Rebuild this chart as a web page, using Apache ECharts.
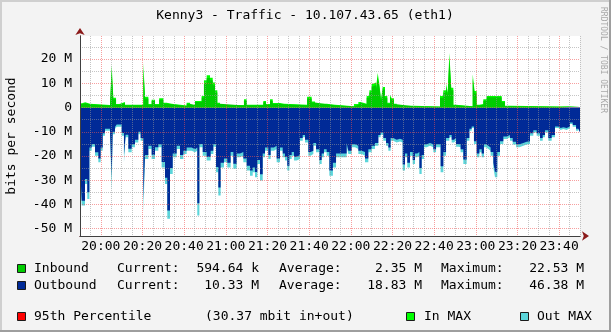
<!DOCTYPE html>
<html><head><meta charset="utf-8">
<script src="https://cdn.jsdelivr.net/npm/echarts@6/dist/echarts.min.js"></script>
<style>html,body{margin:0;padding:0;background:#F3F3F3}#c{width:611px;height:332px}</style>
</head><body><div id="c"></div>
<script>
// minutes after 19:50, values in M bits/s
const inTimes = [0,1,2.5,4.8,14.4,15.2,16,17.3,18.9,21.6,30.4,31.2,32.8,34.4,36,38,40,41.6,44,51.2,52.8,55.2,58.4,59.5,60.8,62.4,63.7,64.8,65.9,67.2,78.7,80,88,89.3,91.2,92.5,96,98,109,111.2,112.8,118.4,122.4,131.5,133.6,134.7,137.6,138.9,140,140.8,142.1,142.9,143.7,144.5,145.3,146.4,147.5,148.8,149.6,150.7,152,160,172.8,174.4,175.7,176.5,177.3,178.2,179.2,180.5,188.5,189.4,190.4,191.7,193.6,195.2,202.4,204,206.4,230.4,240];
const inMax = [1.8,2.2,1.6,1.0,1.2,17.5,4.0,1.5,2.3,1.1,18.4,4.4,1.4,3.2,1.4,3.8,2.0,1.6,0.8,2.0,1.1,2.7,4.8,11.2,13.3,12.3,10.3,7.1,2.0,1.0,3.4,1.1,2.7,1.4,3.4,1.9,1.6,1.1,4.4,2.5,1.6,1.1,0.5,1.4,2.3,1.6,4.8,7.1,9.6,10.3,8.2,14.2,9.6,3.4,8.5,4.8,2.0,5.2,3.8,1.6,0.7,0.4,4.8,7.1,9.9,6.2,22.5,8.2,1.1,0.5,13.7,6.8,1.1,1.4,3.4,4.8,2.7,0.7,0.4,0.5,0.6];
const inAvg = [1.5,1.8,1.3,0.8,1.0,15.0,3.4,1.2,1.9,0.9,16.0,3.7,1.1,2.7,1.1,3.2,1.7,1.3,0.6,1.6,0.9,2.3,4.1,10.0,12.2,11.2,9.2,6.2,1.6,0.8,2.8,0.9,2.2,1.1,2.8,1.6,1.3,0.9,3.7,2.1,1.3,0.9,0.4,1.1,1.9,1.3,4.0,6.2,8.5,9.3,7.2,12.6,8.5,2.8,7.4,4.0,1.6,4.4,3.2,1.3,0.5,0.3,4.0,6.2,8.8,5.3,20.0,7.1,0.9,0.4,12.0,5.8,0.9,1.1,2.8,4.2,2.2,0.5,0.3,0.4,0.6];

const outTimes = [0,0.8,2.4,3.5,4.5,5.6,7.2,8.8,9.9,10.9,12,14.4,15.2,15.7,16.8,17.6,20,21.1,21.9,23.2,24.8,26.4,28,29.1,30.4,31.2,32.8,34.4,36,37.6,39.2,40.8,41.9,43.2,44.5,46.4,48,49.6,51.2,53.6,55.2,56.3,57.3,58.9,60.8,62.7,64,65.3,66.4,67.5,69.1,70.7,72.3,73.6,75.2,76.8,78.4,80,81.6,82.9,84,85.1,86.4,87.7,88.8,90.4,91.5,93.1,94.4,96,97.3,98.4,99.5,100.5,101.6,102.7,104,105.6,106.9,108,109.6,110.7,112,113.3,114.9,116,117.1,118.4,119.7,121.4,122.9,128,128.8,130.4,132,133.6,135.2,136.8,138.4,140,141.6,143.2,144.3,145.6,146.9,148,149.1,150.4,152,153.6,154.9,156,157.1,158.4,159.7,160.8,161.9,162.9,164,165.1,166.4,168,169.6,170.9,173.1,174.4,175.7,177.3,178.4,179.5,180.5,181.6,182.7,184,185.6,186.9,188,189.1,190.4,191.7,192.8,193.9,194.9,196,197.1,198.4,199.2,200.3,201.6,203.2,204.8,206.4,207.7,209.3,210.9,212.8,214.4,216,217.6,219.2,220.8,222.1,223.2,224.8,226.4,228,229.6,230.7,232,233.6,235.2,236.5,238.1,239.2,240];
const outMax = [-24.7,-40.4,-31.5,-37.7,-17.8,-16.2,-19.9,-22.6,-17.8,-11.6,-9.6,-11.0,-34.2,-11.0,-8.9,-7.9,-11.6,-22.6,-12.3,-18.5,-16.4,-14.4,-11.0,-13.7,-43.2,-21.2,-17.1,-21.2,-17.8,-16.4,-24.7,-31.5,-45.9,-27.4,-20.5,-17.1,-21.2,-19.2,-17.8,-18.5,-17.8,-44.5,-16.4,-19.9,-21.9,-19.2,-16.2,-26.7,-36.3,-24.7,-22.6,-24.7,-19.9,-25.3,-20.5,-19.9,-22.6,-26.0,-28.1,-26.7,-28.8,-23.3,-30.1,-20.5,-17.8,-21.2,-17.8,-17.1,-22.6,-17.8,-20.5,-21.9,-26.0,-21.2,-19.9,-21.9,-21.2,-13.7,-12.3,-14.4,-19.9,-19.2,-15.8,-18.5,-23.3,-20.5,-18.5,-19.9,-28.1,-24.7,-20.5,-15.8,-19.2,-16.4,-17.1,-19.2,-19.9,-22.6,-18.5,-17.1,-15.8,-12.3,-11.2,-13.7,-15.8,-17.8,-13.7,-14.4,-14.0,-14.4,-26.0,-20.5,-24.7,-19.9,-23.3,-20.5,-19.9,-27.4,-21.2,-16.4,-15.8,-16.4,-18.5,-16.4,-26.7,-19.9,-13.7,-12.3,-14.4,-13.7,-16.2,-16.4,-18.5,-23.3,-13.7,-9.6,-8.5,-15.1,-20.5,-18.5,-20.5,-16.4,-17.1,-17.8,-19.9,-24.7,-28.8,-19.9,-15.1,-13.0,-12.3,-13.7,-15.3,-16.4,-15.8,-15.3,-15.1,-11.6,-10.3,-11.6,-13.7,-12.3,-10.3,-13.7,-12.3,-8.5,-9.3,-8.9,-9.3,-8.5,-6.8,-7.9,-9.6,-9.3,-10.3];
const outAvg = [-23.0,-38.5,-29.5,-35.0,-16.5,-15.0,-18.5,-21.0,-16.5,-10.6,-8.8,-10.0,-28.5,-10.0,-8.0,-7.0,-10.5,-19.5,-11.2,-17.0,-15.2,-13.3,-10.0,-12.6,-38.0,-19.6,-15.8,-19.5,-16.4,-15.2,-22.5,-29.0,-42.5,-25.0,-19.0,-15.8,-19.6,-17.8,-16.5,-17.2,-16.5,-39.5,-15.0,-18.4,-20.3,-17.8,-15.0,-24.5,-33.0,-22.8,-21.0,-22.8,-18.4,-23.2,-19.0,-18.4,-21.0,-24.0,-26.0,-24.7,-26.6,-21.6,-27.5,-19.0,-16.5,-19.6,-16.5,-15.8,-21.0,-16.5,-19.0,-20.3,-24.0,-19.6,-18.4,-20.3,-19.6,-12.6,-11.3,-13.3,-18.4,-17.8,-14.6,-17.2,-21.6,-19.0,-17.2,-18.4,-26.0,-22.8,-19.0,-14.6,-17.8,-15.2,-15.8,-17.8,-18.4,-21.0,-17.2,-15.8,-14.6,-11.3,-10.3,-12.6,-14.6,-16.5,-12.6,-13.3,-12.9,-13.3,-23.5,-19.0,-22.8,-18.4,-21.6,-19.0,-18.4,-25.0,-19.6,-15.2,-14.6,-15.2,-17.2,-15.2,-24.2,-18.4,-12.6,-11.3,-13.3,-12.6,-15.0,-15.2,-17.2,-21.4,-12.6,-8.8,-7.8,-13.9,-19.0,-17.2,-19.0,-15.2,-15.8,-16.5,-18.4,-22.8,-26.5,-18.4,-13.9,-12.0,-11.3,-12.6,-14.1,-15.2,-14.6,-14.1,-13.9,-10.6,-9.4,-10.6,-12.6,-11.3,-9.4,-12.6,-11.3,-7.8,-8.5,-8.1,-8.5,-7.8,-6.2,-7.2,-8.8,-8.5,-10.3];

const titleText = 'Kenny3 - Traffic - 10.107.43.65 (eth1)';
const yAxisTitle = 'bits per second';
const legendRows = [
  ['Inbound', 'Current:', '594.64 k', 'Average:', '2.35 M', 'Maximum:', '22.53 M'],
  ['Outbound', 'Current:', '10.33 M', 'Average:', '18.83 M', 'Maximum:', '46.38 M']
];

const FONT = '"DejaVu Sans Mono", monospace';
const C = { inAvg:'#00CC00', inMax:'#00FF00', outAvg:'#002A97', outMax:'#5BD5DA', p95:'#FF0000' };
const GRID_MINOR = 'rgba(150,150,150,0.55)';
const GRID_MAJOR = 'rgba(240,80,80,0.55)';
const T = 'rgba(0,0,0,0)';

function pairs(ts, vs){ return ts.map((t,i)=>[t, vs[i]]); }

const xColors = [];
for (let i=0;i<20;i++){ xColors.push(i===10 ? GRID_MAJOR : (i%5===0 ? GRID_MINOR : T)); }
const yColors = [];
for (let i=0;i<20;i++){ yColors.push(i===6 ? GRID_MAJOR : (i===16 ? GRID_MINOR : T)); }

function xLabel(v){
  const t = Math.round(v);
  if (t % 20 !== 10) return '';
  const m = 19*60+50+t, hh = Math.floor(m/60), mm = m%60;
  return String(hh).padStart(2,'0')+':'+String(mm).padStart(2,'0');
}
function yLabel(v){
  const r = Math.round(v/10)*10;
  if (Math.abs(v-r) > 1e-6) return '';
  return r === 0 ? '0' : r + ' M';
}

function areaSeries(name, data, color){
  return { name, type:'line', step:'end', data, symbol:'none', showSymbol:false,
    lineStyle:{width:0}, areaStyle:{color, opacity:1, origin:0}, itemStyle:{color},
    animation:false, silent:true, z:2 };
}

const graphic = [
  {type:'rect', shape:{x:0,y:0,width:611,height:2}, style:{fill:'#CFCFCF'}},
  {type:'rect', shape:{x:0,y:0,width:2,height:332}, style:{fill:'#CFCFCF'}},
  {type:'rect', shape:{x:609,y:0,width:2,height:332}, style:{fill:'#9E9E9E'}},
  {type:'rect', shape:{x:0,y:330,width:611,height:2}, style:{fill:'#9E9E9E'}},
  {type:'text', x:305, y:16, style:{text:titleText, font:'13px '+FONT, fill:'#000', align:'center', verticalAlign:'middle'}},
  {type:'text', x:12, y:136, rotation:Math.PI/2, style:{text:yAxisTitle, font:'13px '+FONT, fill:'#000', align:'center', verticalAlign:'middle'}},
  {type:'text', x:603, y:60, rotation:-Math.PI/2, style:{text:'RRDTOOL / TOBI OETIKER', font:'8px '+FONT, fill:'#A8A8A8', align:'center', verticalAlign:'middle'}}
];
const rowY = [268.5, 285.5];
const rowColors = [C.inAvg, C.outAvg];
legendRows.forEach((r, k) => {
  const y = rowY[k];
  graphic.push({type:'rect', shape:{x:17.5,y:y-4,width:8,height:8}, style:{fill:rowColors[k], stroke:'#1a1a1a', lineWidth:1}});
  const xs = [[34,'left'],[117,'left'],[259,'right'],[279,'left'],[422,'right'],[441,'left'],[584,'right']];
  r.forEach((txt, j) => graphic.push({type:'text', x:xs[j][0], y:y, style:{text:txt, font:'13px '+FONT, fill:'#000', align:xs[j][1], verticalAlign:'middle'}}));
});
const y3 = 316.5;
[[17.5, C.p95],[406.5, C.inMax],[520.5, C.outMax]].forEach(s => graphic.push({type:'rect', shape:{x:s[0],y:y3-4,width:8,height:8}, style:{fill:s[1], stroke:'#1a1a1a', lineWidth:1}}));
[[34,'95th Percentile'],[205,'(30.37 mbit in+out)'],[424,'In MAX'],[537,'Out MAX']].forEach(s => graphic.push({type:'text', x:s[0], y:y3, style:{text:s[1], font:'13px '+FONT, fill:'#000', align:'left', verticalAlign:'middle'}}));

const chart = echarts.init(document.getElementById('c'), null, {renderer:'canvas'});
chart.setOption({
  animation:false,
  backgroundColor:'#F3F3F3',
  grid:{left:80, top:36, width:500, height:200, show:true, backgroundColor:'#FFFFFF', borderWidth:0, containLabel:false},
  xAxis:[
    {type:'value', min:0, max:240, interval:1, z:5,
     axisLine:{show:true, onZero:false, lineStyle:{color:'#404040', width:1}},
     axisTick:{show:false},
     axisLabel:{formatter:xLabel, fontFamily:FONT, fontSize:13, color:'#000', margin:4, showMinLabel:true, showMaxLabel:true},
     splitLine:{show:true, lineStyle:{color:xColors, type:[1,1], width:1}}},
    {type:'value', min:0, max:240, position:'bottom', z:4, show:true,
     axisLine:{show:true, onZero:false, symbol:['none','arrow'], symbolSize:[7,7], symbolOffset:[0,9], lineStyle:{color:'#8B1A1A', width:1}},
     axisTick:{show:false}, axisLabel:{show:false}, splitLine:{show:false}}
  ],
  yAxis:[
    {type:'value', min:-53, max:29.5, interval:0.5, z:5,
     axisLine:{show:true, onZero:false, lineStyle:{color:'#404040', width:1}},
     axisTick:{show:false},
     axisLabel:{formatter:yLabel, fontFamily:FONT, fontSize:13, color:'#000', margin:8},
     splitLine:{show:true, lineStyle:{color:yColors, type:[1,1], width:1}}},
    {type:'value', min:-53, max:29.5, position:'left', z:4, show:true,
     axisLine:{show:true, onZero:false, symbol:['none','arrow'], symbolSize:[7,7], symbolOffset:[0,8], lineStyle:{color:'#8B1A1A', width:1}},
     axisTick:{show:false}, axisLabel:{show:false}, splitLine:{show:false}}
  ],
  series:[
    areaSeries('Out MAX', pairs(outTimes, outMax), C.outMax),
    areaSeries('Outbound', pairs(outTimes, outAvg), C.outAvg),
    areaSeries('In MAX', pairs(inTimes, inMax), C.inMax),
    areaSeries('Inbound', pairs(inTimes, inAvg), C.inAvg)
  ],
  graphic: graphic
});
</script></body></html>
